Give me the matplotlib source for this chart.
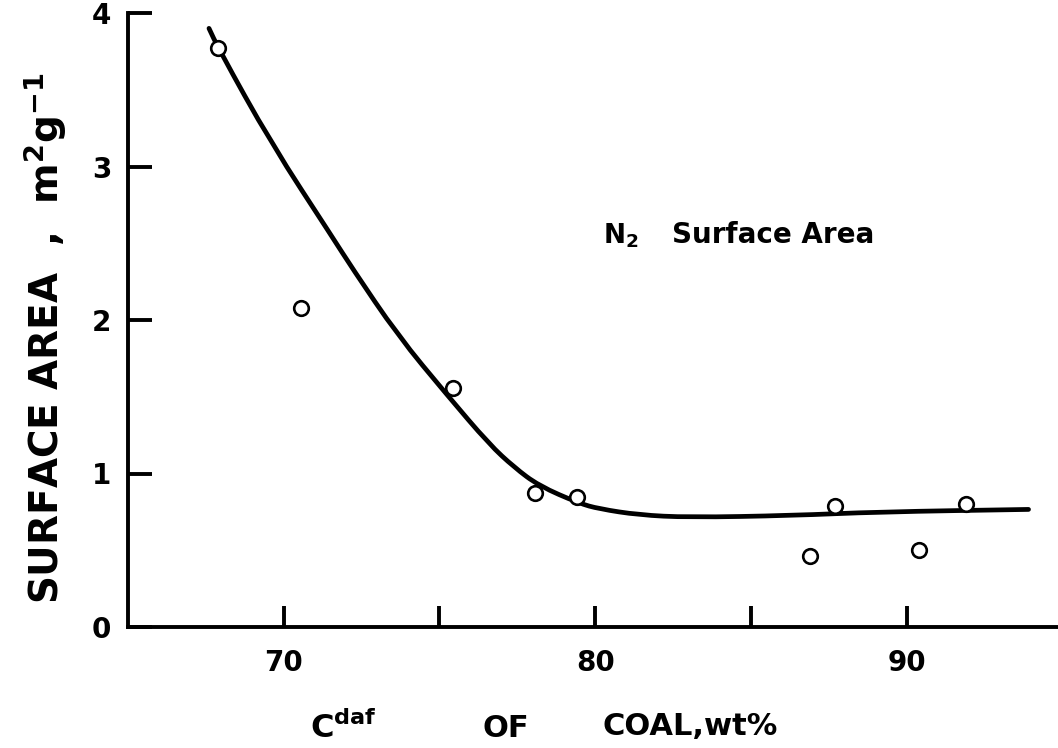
import numpy as np
import matplotlib
matplotlib.use("Agg")
import matplotlib.pyplot as plt
from matplotlib.path import Path
from matplotlib.patches import PathPatch

# Surface area (N2) versus carbon content of coal

# measured points (open circles)
carbon_pts = [67.9, 70.54, 75.44, 78.06, 79.4, 86.9, 87.7, 90.4, 91.9]
area_pts = [3.77, 2.08, 1.56, 0.87, 0.85, 0.46, 0.79, 0.50, 0.80]

# hand-drawn trend line, traced point by point
carbon_curve = [67.6, 67.9, 69.6, 71.56, 72.19, 73.66, 75.25, 76.6, 77.4,
                78.19, 79.48, 80.12, 81.4, 82.99, 86.3, 89.09, 93.91]
area_curve = [3.90, 3.77, 3.15, 2.54, 2.34, 1.90, 1.51, 1.19, 1.04,
              0.92, 0.806, 0.77, 0.73, 0.714, 0.726, 0.75, 0.766]

x_ticks = [70, 75, 80, 85, 90]
x_tick_labels = ["70", "", "80", "", "90"]
y_ticks = [0, 1, 2, 3, 4]
y_tick_labels = ["0", "1", "2", "3", "4"]

plt.rcParams["font.family"] = ["DejaVu Sans"]
plt.rcParams["font.weight"] = "bold"
plt.rcParams["mathtext.fontset"] = "custom"
plt.rcParams["mathtext.rm"] = "DejaVu Sans:bold"
plt.rcParams["mathtext.it"] = "DejaVu Sans:bold"
plt.rcParams["mathtext.bf"] = "DejaVu Sans:bold"
plt.rcParams["mathtext.default"] = "rm"


def smooth_path(xs, ys):
    # quadratic bezier through segment midpoints, so the traced line has no corners
    pts = list(zip(xs, ys))
    verts = [pts[0]]
    codes = [Path.MOVETO]
    mid = lambda a, b: ((a[0] + b[0]) / 2, (a[1] + b[1]) / 2)
    verts.append(mid(pts[0], pts[1]))
    codes.append(Path.LINETO)
    for i in range(1, len(pts) - 1):
        verts += [pts[i], mid(pts[i], pts[i + 1])]
        codes += [Path.CURVE3, Path.CURVE3]
    verts.append(pts[-1])
    codes.append(Path.LINETO)
    return Path(verts, codes)


W, H = 1058, 748
fig = plt.figure(figsize=(W / 100, H / 100), dpi=100)

# axes box in pixels: left spine x=128, bottom spine y=627, top (y=4) at y=13
left_px, right_px, bottom_px, top_px = 128, 1058, 627, 13
ax = fig.add_axes([left_px / W, 1 - bottom_px / H,
                   (right_px - left_px) / W, (bottom_px - top_px) / H])
ax.set_xlim(65, 65 + (right_px - left_px) / 31.15)
ax.set_ylim(0, 4)

curve = PathPatch(smooth_path(carbon_curve, area_curve), fill=False,
                  edgecolor="black", lw=3.4, capstyle="round",
                  joinstyle="round", zorder=2)
ax.add_patch(curve)
ax.plot(carbon_pts, area_pts, linestyle="none", marker="o", ms=10.5,
        mfc="white", mec="black", mew=1.9, zorder=3, clip_on=False)

for side in ("top", "right"):
    ax.spines[side].set_visible(False)
for side in ("left", "bottom"):
    ax.spines[side].set_linewidth(2.8)

ax.set_xticks(x_ticks, x_tick_labels)
ax.set_yticks(y_ticks, y_tick_labels)
ax.tick_params(axis="x", direction="in", length=15, width=2.8, pad=16,
               labelsize=20)
ax.tick_params(axis="y", direction="in", length=17, width=2.8, pad=12,
               labelsize=20)

# in-plot label
fig.text(603 / W, 1 - 243 / H, r"N$_2$", fontsize=19, ha="left", va="baseline")
fig.text(672 / W, 1 - 243 / H, "Surface Area", fontsize=20,
         ha="left", va="baseline")

# axis titles
fig.text(310 / W, 1 - 738 / H, r"C$^{daf}$", fontsize=23,
         ha="left", va="baseline")
fig.text(483 / W, 1 - 737 / H, "OF", fontsize=22, ha="left", va="baseline")
fig.text(603 / W, 1 - 735 / H, "COAL,wt%", fontsize=22,
         ha="left", va="baseline")
fig.text(45 / W, 1 - 338 / H, r"SURFACE AREA  ,  m$^2$g$^{-1}$",
         fontsize=28, rotation=90, ha="center", va="center")

fig.savefig("out.png", dpi=100)
